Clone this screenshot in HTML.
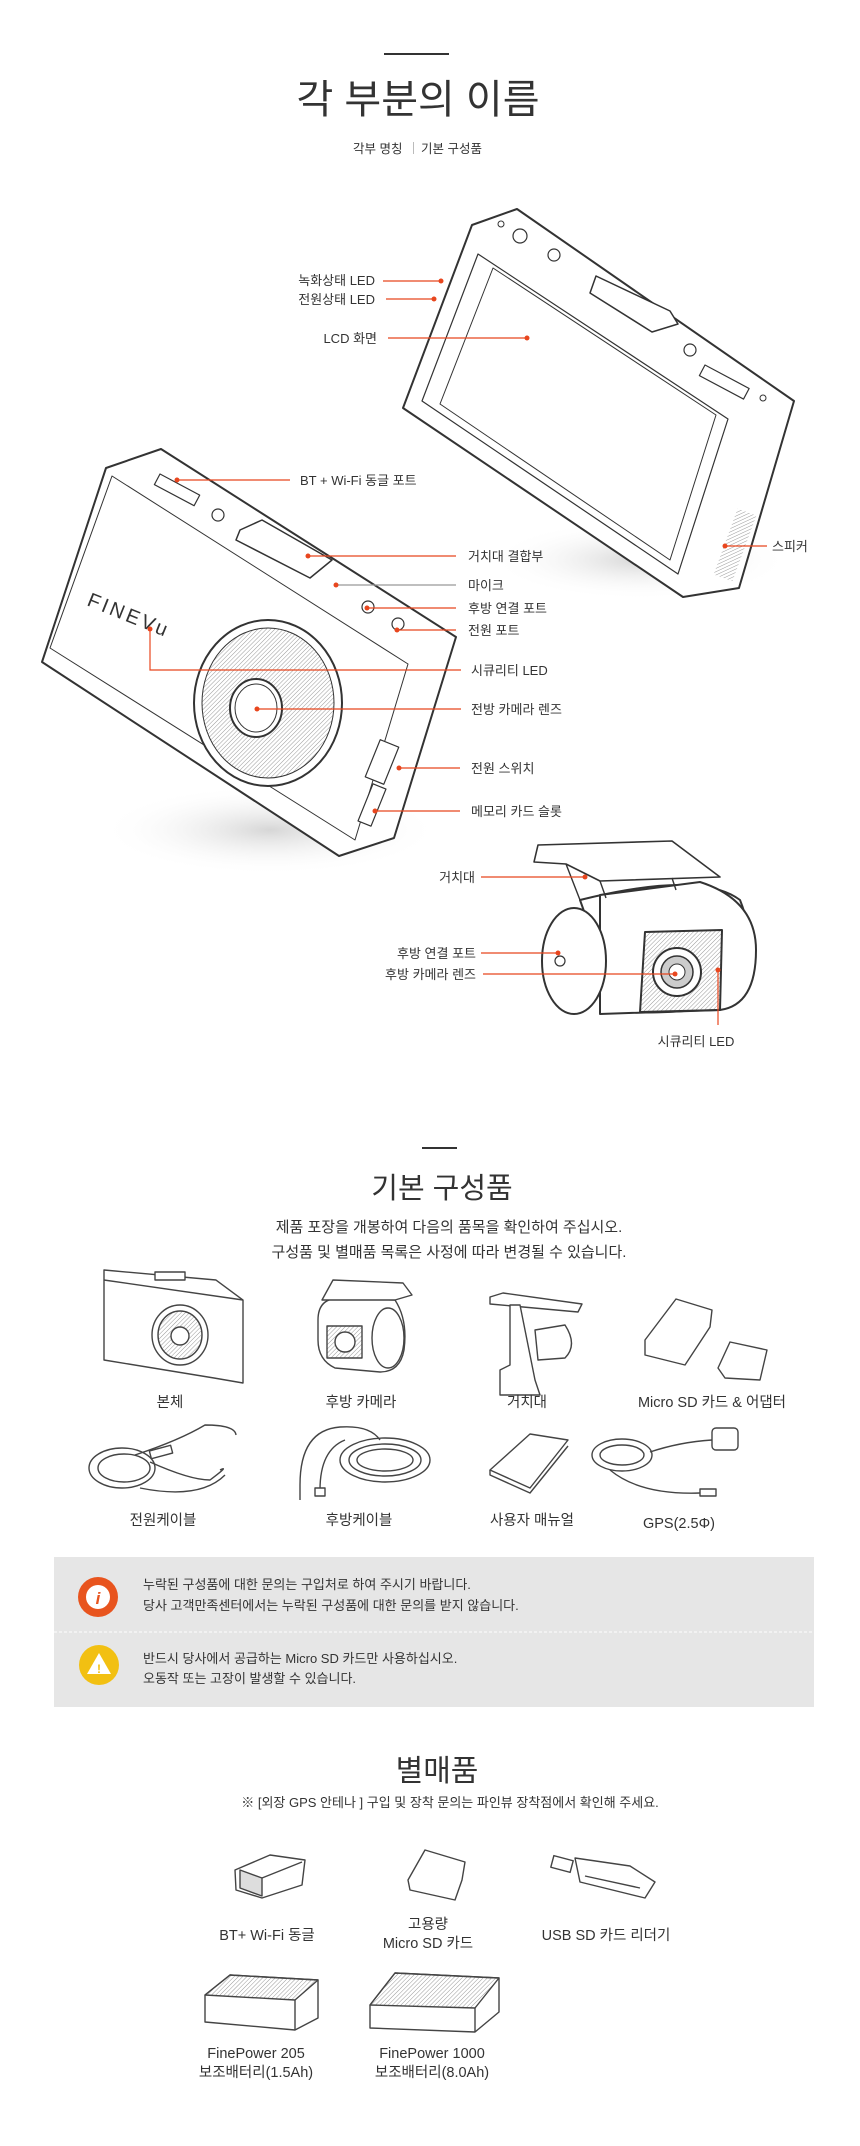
<!DOCTYPE html>
<html><head><meta charset="utf-8">
<style>
html,body{margin:0;padding:0;background:#fff;}
body{width:860px;height:2146px;position:relative;overflow:hidden;font-family:"Liberation Sans","Noto Sans CJK KR",sans-serif;color:#333;}
svg{position:absolute;left:0;top:0;}
text{font-family:"Liberation Sans","Noto Sans CJK KR",sans-serif;fill:#333;}
</style></head><body>
<svg width="860" height="2146" viewBox="0 0 860 2146" xmlns="http://www.w3.org/2000/svg">
<defs>
<radialGradient id="sh" cx="50%" cy="50%" r="50%"><stop offset="0" stop-color="#bbb" stop-opacity=".6"/><stop offset="1" stop-color="#fff" stop-opacity="0"/></radialGradient>
<pattern id="hatch" width="3" height="3" patternUnits="userSpaceOnUse" patternTransform="rotate(45)"><line x1="0" y1="0" x2="0" y2="3" stroke="#999" stroke-width="1"/></pattern>
</defs>

<!-- Section 1 header -->
<rect x="384" y="53" width="65" height="2" fill="#333"/>
<text x="418" y="113" font-size="40" text-anchor="middle" fill="#333">각 부분의 이름</text>
<text x="353" y="153" font-size="12.5">각부 명칭</text>
<rect x="413" y="142" width="1" height="12" fill="#bbb"/>
<text x="421" y="153" font-size="12.5">기본 구성품</text>

<!-- shadows -->
<ellipse cx="640" cy="560" rx="150" ry="40" fill="url(#sh)"/>
<ellipse cx="270" cy="830" rx="170" ry="45" fill="url(#sh)"/>

<!-- Back device (LCD) -->
<g fill="#fff" stroke="#333" stroke-width="2" stroke-linejoin="round">
<polygon points="472,225 517,209 794,401 739,588 683,597 403,408"/>
<polygon points="478,254 728,419 678,574 422,401" stroke-width="1.2"/>
<polygon points="493,268 716,415 670,560 440,404" stroke-width="1"/>
<polygon points="596,276 670,311 678,324 652,332 590,293" stroke-width="1.5"/>
<rect x="705" y="365" width="50" height="12" transform="rotate(28 705 365)" stroke-width="1.2"/>
<circle cx="520" cy="236" r="7" stroke-width="1.2"/><circle cx="554" cy="255" r="6" stroke-width="1.2"/><circle cx="690" cy="350" r="6" stroke-width="1.2"/>
<circle cx="763" cy="398" r="3" stroke-width="1"/><circle cx="501" cy="224" r="3" stroke-width="1"/>
</g>
<rect x="725" y="510" width="20" height="70" fill="url(#hatch)" transform="rotate(20 735 545)"/>

<!-- Front device -->
<g fill="#fff" stroke="#333" stroke-width="2" stroke-linejoin="round">
<polygon points="106,468 161,449 456,637 394,838 339,856 42,662"/>
<polygon points="112,476 408,664 355,840 50,648" stroke-width="1"/>
<polygon points="240,530 262,520 332,560 310,578 236,540" stroke-width="1.5"/>
<rect x="160" y="474" width="45" height="12" transform="rotate(28 160 474)" stroke-width="1.2"/>
<circle cx="218" cy="515" r="6" stroke-width="1.2"/><circle cx="368" cy="607" r="6" stroke-width="1.2"/><circle cx="398" cy="624" r="6" stroke-width="1.2"/>
<ellipse cx="268" cy="703" rx="74" ry="83" stroke-width="2"/>
<ellipse cx="268" cy="703" rx="66" ry="75" fill="url(#hatch)" stroke-width="1"/>
<ellipse cx="256" cy="708" rx="26" ry="29" stroke-width="2"/>
<ellipse cx="256" cy="708" rx="21" ry="24" stroke-width="1"/>
<rect x="372" y="742" width="20" height="40" transform="rotate(22 382 762)" stroke-width="1.2"/>
<rect x="365" y="785" width="14" height="40" transform="rotate(22 372 805)" stroke-width="1.2"/>
</g>
<text x="86" y="605" font-size="20" fill="#333" transform="rotate(22 86 605)" letter-spacing="3">FINEVu</text>

<!-- Rear camera -->
<g fill="#fff" stroke="#333" stroke-width="2" stroke-linejoin="round">
<path d="M580,900 Q700,870 740,900 Q760,950 740,1000 Q700,1015 620,1012 Z"/>
<path d="M600,895 L700,882 Q756,900 756,950 Q756,1005 720,1010 L600,1014 Z"/>
<ellipse cx="574" cy="961" rx="32" ry="53"/>
<polygon points="534,862 538,845 672,841 720,877 600,881 566,864" stroke-width="1.6"/>
<path d="M566,864 L580,900 M600,881 L606,898 M672,878 L676,890" stroke-width="1.4" fill="none"/>
<polygon points="645,932 722,930 720,1010 640,1012" fill="url(#hatch)"/>
<circle cx="677" cy="972" r="24"/>
<circle cx="677" cy="972" r="16" fill="#ccc" stroke-width="1.5"/>
<circle cx="677" cy="972" r="8" fill="#fff" stroke-width="1"/>
<circle cx="560" cy="961" r="5" stroke-width="1.2"/>
</g>

<!-- Callout lines -->
<g stroke="#e8461e" stroke-width="1.2" fill="none">
<line x1="383" y1="281" x2="441" y2="281"/>
<line x1="386" y1="299" x2="434" y2="299"/>
<line x1="388" y1="338" x2="527" y2="338"/>
<line x1="177" y1="480" x2="290" y2="480"/>
<line x1="725" y1="546" x2="767" y2="546"/>
<line x1="308" y1="556" x2="456" y2="556"/>
<line x1="336" y1="585" x2="456" y2="585" stroke="#999"/>
<line x1="367" y1="608" x2="456" y2="608"/>
<line x1="397" y1="630" x2="456" y2="630"/>
<polyline points="150,629 150,670 461,670"/>
<line x1="257" y1="709" x2="461" y2="709"/>
<line x1="399" y1="768" x2="460" y2="768"/>
<line x1="375" y1="811" x2="460" y2="811"/>
<line x1="481" y1="877" x2="585" y2="877"/>
<line x1="481" y1="953" x2="558" y2="953"/>
<line x1="483" y1="974" x2="675" y2="974"/>
<line x1="718" y1="970" x2="718" y2="1025"/>
</g>
<g fill="#e8461e">
<circle cx="441" cy="281" r="2.5"/><circle cx="434" cy="299" r="2.5"/><circle cx="527" cy="338" r="2.5"/>
<circle cx="177" cy="480" r="2.5"/><circle cx="725" cy="546" r="2.5"/><circle cx="308" cy="556" r="2.5"/>
<circle cx="336" cy="585" r="2.5"/><circle cx="367" cy="608" r="2.5"/><circle cx="397" cy="630" r="2.5"/>
<circle cx="150" cy="629" r="2.5"/><circle cx="257" cy="709" r="2.5"/><circle cx="399" cy="768" r="2.5"/>
<circle cx="375" cy="811" r="2.5"/><circle cx="585" cy="877" r="2.5"/><circle cx="558" cy="953" r="2.5"/>
<circle cx="675" cy="974" r="2.5"/><circle cx="718" cy="970" r="2.5"/>
</g>

<!-- Labels -->
<g font-size="13">
<text x="375" y="285" text-anchor="end">녹화상태 LED</text>
<text x="375" y="304" text-anchor="end">전원상태 LED</text>
<text x="377" y="343" text-anchor="end">LCD 화면</text>
<text x="300" y="485">BT + Wi-Fi 동글 포트</text>
<text x="772" y="551">스피커</text>
<text x="468" y="561">거치대 결합부</text>
<text x="468" y="590">마이크</text>
<text x="468" y="613">후방 연결 포트</text>
<text x="468" y="635">전원 포트</text>
<text x="471" y="675">시큐리티 LED</text>
<text x="471" y="714">전방 카메라 렌즈</text>
<text x="471" y="773">전원 스위치</text>
<text x="471" y="816">메모리 카드 슬롯</text>
<text x="475" y="882" text-anchor="end">거치대</text>
<text x="476" y="958" text-anchor="end">후방 연결 포트</text>
<text x="476" y="979" text-anchor="end">후방 카메라 렌즈</text>
<text x="696" y="1046" text-anchor="middle">시큐리티 LED</text>
</g>

<!-- Section 2 -->
<rect x="422" y="1147" width="35" height="2" fill="#333"/>
<text x="442" y="1198" font-size="29" text-anchor="middle">기본 구성품</text>
<text x="449" y="1232" font-size="15" text-anchor="middle">제품 포장을 개봉하여 다음의 품목을 확인하여 주십시오.</text>
<text x="449" y="1257" font-size="15" text-anchor="middle">구성품 및 별매품 목록은 사정에 따라 변경될 수 있습니다.</text>

<g fill="#fff" stroke="#444" stroke-width="1.4" stroke-linejoin="round">
<polygon points="104,1270 216,1280 243,1300 243,1383 214,1378 104,1360"/>
<line x1="104" y1="1280" x2="243" y2="1300"/>
<ellipse cx="180" cy="1335" rx="28" ry="30"/><ellipse cx="180" cy="1335" rx="22" ry="24" fill="url(#hatch)"/><circle cx="180" cy="1336" r="9"/>
<rect x="155" y="1272" width="30" height="8"/>
<path d="M318,1320 Q318,1298 340,1298 L395,1300 Q408,1320 404,1350 Q400,1372 380,1372 L335,1368 Q318,1360 318,1340 Z"/>
<polygon points="322,1300 333,1280 403,1283 412,1295 395,1300"/>
<rect x="327" y="1326" width="35" height="32" fill="url(#hatch)"/>
<circle cx="345" cy="1342" r="10"/>
<ellipse cx="388" cy="1338" rx="16" ry="30"/>
<polygon points="490,1297 503,1293 582,1304 578,1312 490,1304"/>
<path d="M510,1305 L520,1305 L535,1380 L540,1395 L500,1395 L500,1370 L510,1365 Z"/>
<path d="M535,1330 L565,1325 Q578,1345 565,1358 L538,1360 Z"/>
<polygon points="676,1299 712,1310 710,1327 685,1365 645,1355 645,1340"/>
<polygon points="730,1342 767,1350 760,1380 725,1378 718,1368"/>
<ellipse cx="122" cy="1468" rx="33" ry="20" fill="none"/><ellipse cx="124" cy="1468" rx="26" ry="14" fill="none"/>
<path d="M135,1455 Q180,1440 205,1425 Q235,1425 236,1435" fill="none"/>
<path d="M150,1462 Q190,1480 210,1480 Q230,1465 220,1470" fill="none"/>
<path d="M140,1488 Q200,1500 225,1475" fill="none"/>
<rect x="150" y="1448" width="22" height="8" transform="rotate(-15 161 1452)"/>
<ellipse cx="385" cy="1460" rx="45" ry="22" fill="none"/><ellipse cx="385" cy="1460" rx="36" ry="16" fill="none"/><ellipse cx="385" cy="1460" rx="28" ry="11" fill="none"/>
<path d="M300,1485 Q300,1430 340,1427 Q370,1425 380,1440" fill="none"/>
<path d="M320,1490 Q320,1450 345,1440" fill="none"/>
<line x1="300" y1="1485" x2="300" y2="1500"/><rect x="315" y="1488" width="10" height="8"/>
<polygon points="490,1470 530,1434 568,1440 530,1488"/>
<path d="M490,1470 L490,1475 L530,1493 L568,1446" fill="none"/>
<ellipse cx="622" cy="1455" rx="30" ry="16" fill="none"/><ellipse cx="622" cy="1455" rx="22" ry="10" fill="none"/>
<path d="M650,1452 Q680,1442 712,1440" fill="none"/>
<rect x="712" y="1428" width="26" height="22" rx="4"/>
<path d="M610,1470 Q640,1495 700,1493 L715,1493" fill="none"/>
<rect x="700" y="1489" width="16" height="7"/>
</g>

<g font-size="14.5" text-anchor="middle">
<text x="170" y="1407">본체</text>
<text x="361" y="1407">후방 카메라</text>
<text x="527" y="1407">거치대</text>
<text x="712" y="1407">Micro SD 카드 &amp; 어댑터</text>
<text x="163" y="1525">전원케이블</text>
<text x="359" y="1525">후방케이블</text>
<text x="532" y="1525">사용자 매뉴얼</text>
<text x="679" y="1528">GPS(2.5Φ)</text>
</g>

<rect x="54" y="1557" width="760" height="150" fill="#e6e6e6"/>
<line x1="54" y1="1632" x2="814" y2="1632" stroke="#fff" stroke-width="1" stroke-dasharray="3,2"/>
<circle cx="98" cy="1597" r="20" fill="#e8541e"/>
<circle cx="98" cy="1597" r="12" fill="#fff"/>
<text x="98" y="1604" font-size="17" font-weight="bold" font-style="italic" text-anchor="middle" style="fill:#e8541e">i</text>
<circle cx="99" cy="1665" r="20" fill="#f2c012"/>
<polygon points="99,1653 111,1674 87,1674" fill="#fff"/>
<text x="99" y="1673" font-size="12" font-weight="bold" text-anchor="middle" style="fill:#f2c012">!</text>
<g font-size="13">
<text x="143" y="1589">누락된 구성품에 대한 문의는 구입처로 하여 주시기 바랍니다.</text>
<text x="143" y="1610">당사 고객만족센터에서는 누락된 구성품에 대한 문의를 받지 않습니다.</text>
<text x="143" y="1663">반드시 당사에서 공급하는 Micro SD 카드만 사용하십시오.</text>
<text x="143" y="1683">오동작 또는 고장이 발생할 수 있습니다.</text>
</g>

<text x="437" y="1781" font-size="30" text-anchor="middle">별매품</text>
<text x="450" y="1807" font-size="13" text-anchor="middle">※ [외장 GPS 안테나 ] 구입 및 장착 문의는 파인뷰 장착점에서 확인해 주세요.</text>

<g fill="#fff" stroke="#444" stroke-width="1.4" stroke-linejoin="round">
<polygon points="235,1870 270,1855 305,1860 302,1885 262,1898 236,1890"/>
<polygon points="240,1870 262,1878 262,1896 240,1888" fill="#ddd"/>
<line x1="262" y1="1878" x2="302" y2="1862"/>
<polygon points="425,1850 465,1862 462,1880 455,1900 410,1890 408,1880"/>
<rect x="552" y="1858" width="20" height="12" transform="rotate(15 562 1864)"/>
<polygon points="575,1858 630,1866 655,1882 645,1898 580,1882"/>
<line x1="585" y1="1876" x2="640" y2="1888"/>
<polygon points="205,1995 230,1975 318,1980 318,2018 295,2030 205,2022"/>
<polygon points="205,1995 230,1975 318,1980 295,2000" fill="url(#hatch)"/>
<line x1="295" y1="2000" x2="295" y2="2030"/>
<polygon points="370,2005 395,1973 499,1978 499,2012 475,2032 370,2028"/>
<polygon points="370,2005 395,1973 499,1978 475,2008" fill="url(#hatch)"/>
<line x1="475" y1="2008" x2="475" y2="2032"/>
</g>
<g font-size="14.5" text-anchor="middle">
<text x="267" y="1940">BT+ Wi-Fi 동글</text>
<text x="428" y="1929">고용량</text>
<text x="428" y="1948">Micro SD 카드</text>
<text x="606" y="1940">USB SD 카드 리더기</text>
<text x="256" y="2058">FinePower 205</text>
<text x="256" y="2077">보조배터리(1.5Ah)</text>
<text x="432" y="2058">FinePower 1000</text>
<text x="432" y="2077">보조배터리(8.0Ah)</text>
</g>
</svg>
</body></html>
